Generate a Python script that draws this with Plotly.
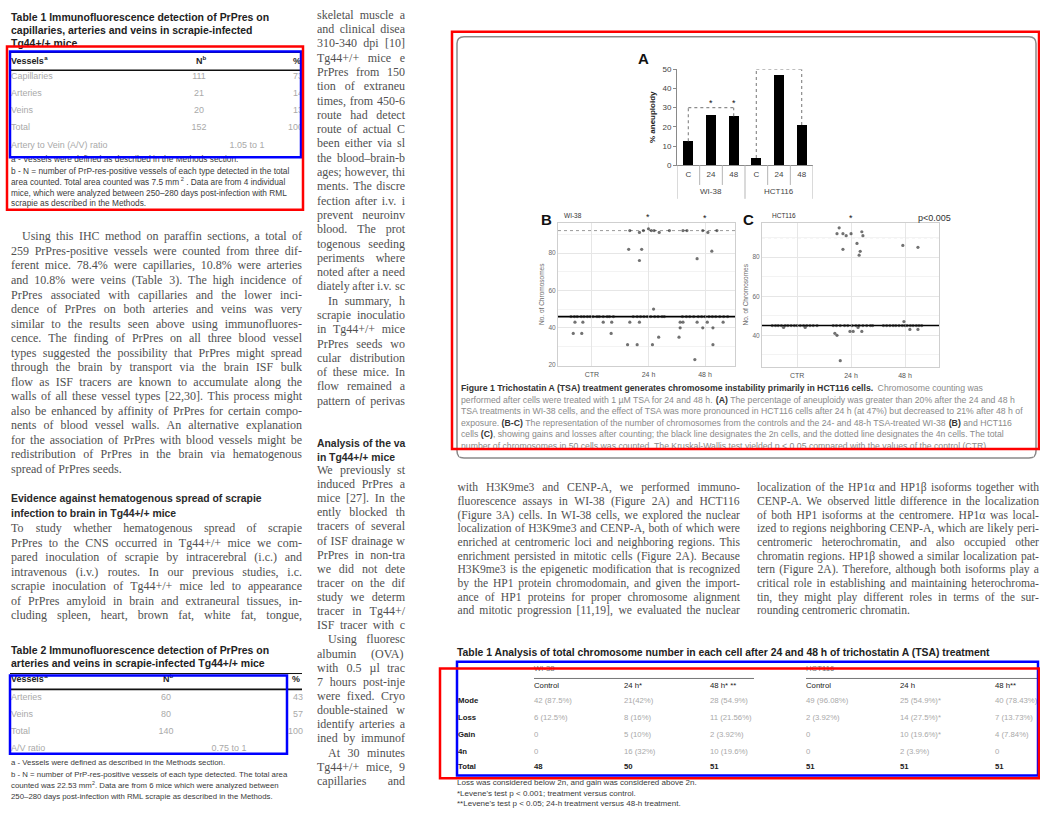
import re
import plotly.graph_objects as go

W, H = 1040, 815

# ---------------- Figure 1A: percentage of aneuploid cells ----------------
time_labels = ["C", "24", "48"]
cell_lines = ["WI-38", "HCT116"]
aneuploidy_wi38 = [12.5, 26.0, 25.5]
aneuploidy_hct116 = [3.8, 47.0, 21.0]
bracket_wi38 = 30
bracket_hct116 = 50

# ---------------- Figure 1B/1C: chromosome number per cell ----------------
conditions = ["CTR", "24 h", "48 h"]
wi38_ploidy = [46, 92]
hct116_ploidy = [45, 90]

wi38_ctr_n = [46, 46, 46, 46, 46, 46, 46, 46, 46, 46, 46, 46, 46, 46, 43, 43, 43, 43, 37, 37, 37]
wi38_ctr_dx = [-0.37, -0.31, -0.26, -0.19, -0.14, -0.08, -0.03, 0.02, 0.09, 0.13, 0.20, 0.27, 0.31, 0.38,
               -0.30, -0.16, 0.20, 0.35, -0.33, -0.18, 0.34]
wi38_24_n = [92, 91, 92, 93, 92, 92, 91, 92, 82, 82, 76, 50,
             46, 46, 46, 46, 46, 46, 46, 46, 46, 46, 43, 43, 35, 31, 31, 31]
wi38_24_dx = [-0.33, -0.16, -0.09, 0.00, 0.05, 0.10, 0.19, 0.37, -0.35, -0.12, -0.16, 0.09,
              -0.27, -0.20, -0.14, -0.08, -0.02, 0.04, 0.11, 0.17, 0.24, 0.28, -0.33, -0.16, 0.18, -0.37, -0.20, 0.07]
wi38_48_n = [92, 92, 92, 91, 92, 81, 77,
             46, 46, 46, 46, 46, 46, 46, 46, 46, 46, 46, 46, 46,
             43, 43, 43, 43, 43, 40, 40, 40, 35, 31, 23]
wi38_48_dx = [-0.39, -0.32, -0.04, 0.05, 0.21, 0.12, -0.14,
              -0.40, -0.33, -0.27, -0.20, -0.12, -0.06, 0.00, 0.07, 0.13, 0.19, 0.26, 0.33, 0.40,
              -0.44, -0.39, -0.14, 0.04, 0.32, -0.44, -0.04, 0.14, -0.46, 0.14, -0.18]

hct_ctr_n = [45, 45, 45, 45, 45, 45, 45, 45, 45, 45, 45, 45, 45, 45, 45, 44, 44]
hct_ctr_dx = [-0.46, -0.40, -0.35, -0.29, -0.22, -0.17, -0.11, -0.05, 0.00, 0.06, 0.12, 0.18, 0.24, 0.30, 0.37,
              -0.25, 0.15]
hct_24_n = [95, 92, 92, 91, 92, 93, 91, 84, 87, 83, 81,
            45, 45, 45, 45, 45, 45, 45, 45, 45, 45, 45, 45, 41, 40, 42, 42, 42, 44, 27]
hct_24_dx = [-0.22, -0.26, -0.15, -0.09, 0.00, 0.20, 0.22, -0.15, 0.11, 0.17, 0.15,
             -0.33, -0.27, -0.20, -0.12, -0.06, 0.02, 0.09, 0.15, 0.22, 0.29, 0.36, 0.40,
             -0.30, -0.26, -0.02, 0.04, 0.20, 0.13, -0.20]
hct_48_n = [86, 85, 45, 45, 45, 45, 45, 45, 45, 45, 45, 45, 45, 45, 45, 45, 47, 43, 43]
hct_48_dx = [-0.04, 0.24, -0.40, -0.34, -0.28, -0.22, -0.17, -0.11, -0.05, 0.00, 0.04, 0.10, 0.15, 0.21,
             0.26, 0.31, -0.02, 0.09, 0.24]

# ---------------- Tables ----------------
t1_vessels = ["Capillaries", "Arteries", "Veins", "Total"]
t1_n = [111, 21, 20, 152]
t1_pct = [73, 14, 13, 100]
t1_ratio = "1.05 to 1"

t2_vessels = ["Arteries", "Veins", "Total"]
t2_n = [60, 80, 140]
t2_pct = [43, 57, 100]
t2_ratio = "0.75 to 1"

tsa_groups = ["WI-38", "HCT116"]
tsa_cols = ["Control", "24 h*", "48 h* **", "Control", "24 h", "48 h**"]
tsa_rows = ["Mode", "Loss", "Gain", "4n", "Total"]
tsa_mode = ["42 (87.5%)", "21(42%)", "28 (54.9%)", "49 (96.08%)", "25 (54.9%)*", "40 (78.43%)"]
tsa_loss = ["6 (12.5%)", "8 (16%)", "11 (21.56%)", "2 (3.92%)", "14 (27.5%)*", "7 (13.73%)"]
tsa_gain = ["0", "5 (10%)", "2 (3.92%)", "0", "10 (19.6%)*", "4 (7.84%)"]
tsa_4n = ["0", "16 (32%)", "10 (19.6%)", "0", "2 (3.9%)", "0"]
tsa_total = ["48", "50", "51", "51", "51", "51"]

# ---------------- Text of the pages ----------------
t1_title = ["Table 1 Immunofluorescence detection of PrPres on",
            "capillaries, arteries and veins in scrapie-infected",
            "Tg44+/+ mice"]
t1_notes = ["a - Vessels were defined as described in the Methods section.",
            "b - N = number of PrP-res-positive vessels of each type detected in the total",
            "area counted. Total area counted was 7.5 mm<sup>2</sup> . Data are from 4 individual",
            "mice, which were analyzed between 250\u2013280 days post-infection with RML",
            "scrapie as described in the Methods."]
para1 = ["Using this IHC method on paraffin sections, a total of",
         "259 PrPres-positive vessels were counted from three dif-",
         "ferent mice. 78.4% were capillaries, 10.8% were arteries",
         "and 10.8% were veins (Table 3). The high incidence of",
         "PrPres associated with capillaries and the lower inci-",
         "dence of PrPres on both arteries and veins was very",
         "similar to the results seen above using immunofluores-",
         "cence. The finding of PrPres on all three blood vessel",
         "types suggested the possibility that PrPres might spread",
         "through the brain by transport via the brain ISF bulk",
         "flow as ISF tracers are known to accumulate along the",
         "walls of all these vessel types [22,30]. This process might",
         "also be enhanced by affinity of PrPres for certain compo-",
         "nents of blood vessel walls. An alternative explanation",
         "for the association of PrPres with blood vessels might be",
         "redistribution of PrPres in the brain via hematogenous",
         "spread of PrPres seeds."]
heading1 = ["Evidence against hematogenous spread of scrapie",
            "infection to brain in Tg44+/+ mice"]
para2 = ["To study whether hematogenous spread of scrapie",
         "PrPres to the CNS occurred in Tg44+/+ mice we com-",
         "pared inoculation of scrapie by intracerebral (i.c.) and",
         "intravenous (i.v.) routes. In our previous studies, i.c.",
         "scrapie inoculation of Tg44+/+ mice led to appearance",
         "of PrPres amyloid in brain and extraneural tissues, in-",
         "cluding spleen, heart, brown fat, white fat, tongue,"]
t2_title = ["Table 2 Immunofluorescence detection of PrPres on",
            "arteries and veins in scrapie-infected Tg44+/+ mice"]
t2_notes = ["a - Vessels were defined as described in the Methods section.",
            "b - N = number of PrP-res-positive vessels of each type detected. The total area",
            "counted was 22.53 mm<sup>2</sup>. Data are from 6 mice which were analyzed between",
            "250\u2013280 days post-infection with RML scrapie as described in the Methods."]
mid_upper = ["skeletal muscle a", "and clinical disea", "310-340 dpi [10]", "Tg44+/+ mice e",
             "PrPres from 150", "tion of extraneu", "times, from 450-6", "route had detect",
             "route of actual C", "been either via sl", "the blood\u2013brain-b", "ages; however, thi",
             "ments. The discre", "fection after i.v. i", "prevent neuroinv", "blood. The prot",
             "togenous seeding", "periments where", "noted after a need", "diately after i.v. sc",
             "In summary, h", "scrapie inoculatio", "in Tg44+/+ mice", "PrPres seeds wo",
             "cular distribution", "of these mice. In", "flow remained a", "pattern of perivas"]
mid_heading = ["Analysis of the va", "in Tg44+/+ mice"]
mid_lower = ["We previously st", "induced PrPres a", "mice [27]. In the", "ently blocked th",
             "tracers of several", "of ISF drainage w", "PrPres in non-tra", "we did not dete",
             "tracer on the dif", "study we determ", "tracer in Tg44+/", "ISF tracer with c",
             "Using fluoresc", "albumin (OVA)", "with 0.5 \u00b5l trac", "7 hours post-inje",
             "were fixed. Cryo", "double-stained w", "identify arteries a", "ined by immunof",
             "At 30 minutes", "Tg44+/+ mice, 9", "capillaries and"]
caption = ["<b>Figure 1 Trichostatin A (TSA) treatment generates chromosome instability primarily in HCT116 cells.</b> Chromosome counting was",
           "performed after cells were treated with 1 \u00b5M TSA for 24 and 48 h. <b>(A)</b> The percentage of aneuploidy was greater than 20% after the 24 and 48 h",
           "TSA treatments in WI-38 cells, and the effect of TSA was more pronounced in HCT116 cells after 24 h (at 47%) but decreased to 21% after 48 h of",
           "exposure. <b>(B-C)</b> The representation of the number of chromosomes from the controls and the 24- and 48-h TSA-treated WI-38 <b>(B)</b> and HCT116",
           "cells <b>(C)</b>, showing gains and losses after counting; the black line designates the 2n cells, and the dotted line designates the 4n cells. The total",
           "number of chromosomes in 50 cells was counted. The Kruskal-Wallis test yielded p < 0.05 compared with the values of the control (CTR)."]
right_left = ["with H3K9me3 and CENP-A, we performed immuno-",
              "fluorescence assays in WI-38 (Figure 2A) and HCT116",
              "(Figure 3A) cells. In WI-38 cells, we explored the nuclear",
              "localization of H3K9me3 and CENP-A, both of which were",
              "enriched at centromeric loci and neighboring regions. This",
              "enrichment persisted in mitotic cells (Figure 2A). Because",
              "H3K9me3 is the epigenetic modification that is recognized",
              "by the HP1 protein chromodomain, and given the import-",
              "ance of HP1 proteins for proper chromosome alignment",
              "and mitotic progression [11,19], we evaluated the nuclear"]
right_right = ["localization of the HP1\u03b1 and HP1\u03b2 isoforms together with",
               "CENP-A. We observed little difference in the localization",
               "of both HP1 isoforms at the centromere. HP1\u03b1 was local-",
               "ized to regions neighboring CENP-A, which are likely peri-",
               "centromeric heterochromatin, and also occupied other",
               "chromatin regions. HP1\u03b2 showed a similar localization pat-",
               "tern (Figure 2A). Therefore, although both isoforms play a",
               "critical role in establishing and maintaining heterochroma-",
               "tin, they might play different roles in terms of the sur-",
               "rounding centromeric chromatin."]
tsa_title = "Table 1 Analysis of total chromosome number in each cell after 24 and 48 h of trichostatin A (TSA) treatment"
tsa_notes = ["Loss was considered below 2n, and gain was considered above 2n.",
             "*Levene's test p < 0.001; treatment versus control.",
             "**Levene's test p < 0.05; 24-h treatment versus 48-h treatment."]

# ---------------- Font metrics (Times / Arial compatible, 1/1000 em) ----------------
LOW = "abcdefghijklmnopqrstuvwxyz"
UP = "ABCDEFGHIJKLMNOPQRSTUVWXYZ"
SERIF_M = dict(zip(LOW, [444, 500, 444, 500, 444, 333, 500, 500, 278, 278, 500, 278, 778, 500, 500, 500, 500,
                         333, 389, 278, 500, 500, 722, 500, 500, 444]))
SERIF_M.update(zip(UP, [722, 667, 667, 722, 611, 556, 722, 722, 333, 389, 722, 611, 889, 722, 722, 556, 722,
                        667, 556, 611, 722, 722, 944, 722, 722, 611]))
SERIF_M.update({d: 500 for d in "0123456789"})
SERIF_M.update({" ": 250, ".": 250, ",": 250, "-": 333, "(": 333, ")": 333, "[": 333, "]": 333, "%": 833,
                "/": 278, ":": 278, ";": 278, "+": 564, "=": 564, "'": 333, "\u2013": 500, "\u00b5": 500,
                "\u03b1": 520, "\u03b2": 500})
SANS_M = dict(zip(LOW, [556, 556, 500, 556, 556, 278, 556, 556, 222, 222, 500, 222, 833, 556, 556, 556, 556,
                        333, 500, 278, 556, 500, 722, 500, 500, 500]))
SANS_M.update(zip(UP, [667, 667, 722, 722, 667, 611, 778, 722, 278, 500, 667, 556, 833, 722, 778, 667, 778,
                       722, 667, 611, 722, 667, 944, 667, 667, 611]))
SANS_M.update({d: 556 for d in "0123456789"})
SANS_M.update({" ": 278, ".": 278, ",": 278, "-": 333, "(": 333, ")": 333, "[": 278, "]": 278, "%": 889,
               "/": 278, ":": 278, ";": 278, "*": 389, "+": 584, "=": 584, "<": 584, ">": 584, "'": 191,
               "\u2013": 556, "\u00b5": 556})
SANSB_M = dict(zip(LOW, [556, 611, 556, 611, 556, 333, 611, 611, 278, 278, 556, 278, 889, 611, 611, 611, 611,
                         389, 556, 333, 611, 556, 778, 556, 556, 500]))
SANSB_M.update(zip(UP, [722, 722, 722, 722, 667, 611, 778, 722, 278, 556, 722, 611, 833, 722, 778, 667, 778,
                        722, 667, 611, 722, 667, 944, 667, 667, 611]))
SANSB_M.update({d: 556 for d in "0123456789"})
SANSB_M.update({" ": 278, ".": 278, ",": 278, "-": 333, "(": 333, ")": 333, "%": 889, "/": 278, ":": 333,
                ";": 333, "*": 389, "+": 584})

SERIF = "Liberation Serif, Times New Roman, serif"
SANS = "Liberation Sans, Arial, sans-serif"


def strip_tags(s):
    return re.sub(r"<[^>]+>", "", s)


def em(s, table):
    return sum(table.get(c, 500) for c in strip_tags(s)) / 1000.0


def em_mixed(s, reg, bold):
    total, is_bold = 0.0, False
    for part in re.split(r"(</?b>)", s):
        if part == "<b>":
            is_bold = True
        elif part == "</b>":
            is_bold = False
        else:
            total += em(part, bold if is_bold else reg)
    return total


def fit(s, table, width):
    return width / em(s, table)


fig = go.Figure()


def put(xs, ys, texts, family, size, color, pos="middle right", weight="normal"):
    fig.add_trace(go.Scatter(x=xs, y=ys, text=texts, mode="text", textposition=pos,
                             textfont=dict(family=family, size=size, color=color, weight=weight),
                             hoverinfo="skip", showlegend=False, cliponaxis=False,
                             xaxis="x", yaxis="y"))


def rich(lines, x0, ys, size, color, bold_color, bold_all=False, reg=SANS_M, bold=SANSB_M):
    """Sans lines with <b> and <sup> runs, each run set as its own text item."""
    runs = {}
    for line, y in zip(lines, ys):
        x, is_b, is_sup = x0, bold_all, False
        for tok in re.split(r"(</?b>|</?sup>)", line):
            if tok == "<b>":
                is_b = True
            elif tok == "</b>":
                is_b = bold_all
            elif tok == "<sup>":
                is_sup = True
            elif tok == "</sup>":
                is_sup = False
            elif tok:
                sz = size * 0.68 if is_sup else size
                tab = bold if is_b else reg
                lead = len(tok) - len(tok.lstrip(" "))
                trail = len(tok) - len(tok.rstrip(" "))
                x += lead * tab[" "] * sz / 1000.0
                core = tok.strip()
                if core:
                    runs.setdefault((is_b, is_sup), []).append((x, y - (0.38 * size if is_sup else 0), core))
                    x += em(core, tab) * sz
                x += trail * tab[" "] * sz / 1000.0
    for (is_b, is_sup), items in runs.items():
        put([i[0] for i in items], [i[1] for i in items], [i[2] for i in items], SANS,
            size * 0.68 if is_sup else size, bold_color if is_b else color,
            weight="bold" if is_b else "normal")


def justify(lines, x0, x1, y0, dy, size, table, ragged=(), indents=None):
    xs, ys, ws = [], [], []
    space = table[" "] * size / 1000.0
    for i, line in enumerate(lines):
        left = x0 + (indents or {}).get(i, 0)
        words = line.split()
        wl = [em(w, table) * size for w in words]
        if len(words) > 1 and i not in ragged:
            gap = max((x1 - left - sum(wl)) / (len(words) - 1), space * 0.6)
        else:
            gap = space
        x = left
        for w, wd in zip(words, wl):
            xs.append(x)
            ys.append(y0 + i * dy)
            ws.append(w)
            x += wd + gap
    return xs, ys, ws


BODY = "#505050"
LIGHT = "#a9a9a9"
DARK = "#222222"

# ======================= Left page =======================
s_title = fit(t1_title[0], SANSB_M, 259)
put([11] * 3, [15, 28, 41], t1_title, SANS, s_title, DARK, weight="bold")

s_row = fit("Artery to Vein (A/V) ratio", SANS_M, 97)
rich(["Vessels<sup>a</sup>"], 11, [58], s_row, DARK, DARK, bold_all=True)
rich(["N<sup>b</sup>"], 196, [58], s_row, DARK, DARK, bold_all=True)
put([301], [58], ["%"], SANS, s_row, DARK, pos="middle left", weight="bold")
t1_y = [74, 91, 108, 125]
put([11] * 4 + [11], t1_y + [143], t1_vessels + ["Artery to Vein (A/V) ratio"], SANS, s_row, LIGHT)
put([199] * 4 + [247], t1_y + [143], [str(v) for v in t1_n] + [t1_ratio], SANS, s_row, LIGHT, pos="middle center")
put([303] * 4, t1_y, [str(v) for v in t1_pct], SANS, s_row, LIGHT, pos="middle left")

s_note1 = fit(t1_notes[1], SANS_M, 279)
rich(t1_notes, 11, [158, 170, 181, 192, 202], s_note1, "#3a3a3a", "#3a3a3a")

xs, ys, ws = justify(para1, 11, 302, 236, 14.7, 12, SERIF_M, ragged={16}, indents={0: 11})
put(xs, ys, ws, SERIF, 12, BODY)

s_head = fit(heading1[0], SANSB_M, 251)
put([11, 11], [501, 516], heading1, SANS, s_head, "#2a2a2a", weight="bold")

xs, ys, ws = justify(para2, 11, 302, 531, 14.7, 12, SERIF_M)
put(xs, ys, ws, SERIF, 12, BODY)

s_title2 = fit(t2_title[0], SANSB_M, 259)
put([11, 11], [655, 668], t2_title, SANS, s_title2, DARK, weight="bold")
rich(["Vessels<sup>a</sup>"], 11, [683], s_row, DARK, DARK, bold_all=True)
rich(["N<sup>b</sup>"], 163, [683], s_row, DARK, DARK, bold_all=True)
put([300], [683], ["%"], SANS, s_row, DARK, pos="middle left", weight="bold")
t2_y = [702, 719, 736]
put([11] * 4, t2_y + [753], t2_vessels + ["A/V ratio"], SANS, s_row, LIGHT)
put([166] * 3 + [229], t2_y + [753], [str(v) for v in t2_n] + [t2_ratio], SANS, s_row, LIGHT, pos="middle center")
put([303] * 3, t2_y, [str(v) for v in t2_pct], SANS, s_row, LIGHT, pos="middle left")
s_note2 = fit(t2_notes[1], SANS_M, 277)
rich(t2_notes, 11, [768, 780, 791, 802], s_note2, "#3a3a3a", "#3a3a3a")

# middle column, cut at the page edge
xs, ys, ws = justify(mid_upper, 317, 405, 12, 14.45, 12, SERIF_M, indents={20: 11})
put(xs, ys, ws, SERIF, 12, BODY)
put([317, 317], [445, 459], mid_heading, SANS, s_head, "#2a2a2a", weight="bold")
xs, ys, ws = justify(mid_lower, 317, 405, 472, 14.3, 12, SERIF_M, indents={12: 11, 20: 11})
put(xs, ys, ws, SERIF, 12, BODY)

# ======================= Right page =======================
s_cap = 554 / em_mixed(caption[1], SANS_M, SANSB_M)
rich(caption, 461, [389, 401, 412.7, 424.4, 436, 447.7], s_cap, "#8a8a8a", "#333333")

xs, ys, ws = justify(right_left, 457.5, 740, 490, 13.8, 11.6, SERIF_M)
put(xs, ys, ws, SERIF, 11.6, BODY)
xs, ys, ws = justify(right_right, 757, 1039, 490, 13.8, 11.6, SERIF_M, ragged={9})
put(xs, ys, ws, SERIF, 11.6, BODY)

s_tsa_title = fit(tsa_title, SANSB_M, 535)
put([457], [657], [tsa_title], SANS, s_tsa_title, DARK, weight="bold")
col_x = [534, 624, 710, 806, 900, 995]
row_y = [705, 722, 739, 756, 772]
s_cell = fit("42 (87.5%)", SANS_M, 38)
put([534, 806], [672, 672], tsa_groups, SANS, s_cell, "#777777")
put(col_x, [690] * 6, tsa_cols, SANS, s_cell, DARK)
put([458] * 5, row_y, tsa_rows, SANS, s_cell, DARK, weight="bold")
cells = tsa_mode + tsa_loss + tsa_gain + tsa_4n
put(col_x * 4, [y for y in row_y[:4] for _ in col_x], cells, SANS, s_cell, LIGHT)
put(col_x, [row_y[4]] * 6, tsa_total, SANS, s_cell, DARK, weight="bold")
s_tsa_note = fit(tsa_notes[0], SANS_M, 240)
put([457] * 3, [788, 799, 809], tsa_notes, SANS, s_tsa_note, "#3a3a3a")

# ======================= Figure 1A bars =======================
bar_vals = aneuploidy_wi38 + aneuploidy_hct116
bar_pos = list(range(len(bar_vals)))
fig.add_trace(go.Bar(x=bar_pos, y=bar_vals, width=0.45, marker=dict(color="#000000", line=dict(width=0)),
                     xaxis="x2", yaxis="y2", hoverinfo="skip", showlegend=False))


# ======================= Figure 1B / 1C scatter =======================
def jitter_trace(groups, xa, ya):
    xs, ys = [], []
    for k, (n, dxs) in enumerate(groups):
        xs += [k + 1 + d for d in dxs]
        ys += n
    fig.add_trace(go.Scatter(x=xs, y=ys, mode="markers", xaxis=xa, yaxis=ya, hoverinfo="skip",
                             showlegend=False,
                             marker=dict(size=3.2, color="rgba(20,20,20,0.6)", line=dict(width=0))))


jitter_trace([(wi38_ctr_n, wi38_ctr_dx), (wi38_24_n, wi38_24_dx), (wi38_48_n, wi38_48_dx)], "x3", "y3")
jitter_trace([(hct_ctr_n, hct_ctr_dx), (hct_24_n, hct_24_dx), (hct_48_n, hct_48_dx)], "x4", "y4")


def dom_x(a, b):
    return [a / W, b / W]


def dom_y(top, bottom):
    return [1 - bottom / H, 1 - top / H]


tick_small = dict(family=SANS, size=6.5, color="#6a6a6a")
scatter_x = dict(tickvals=[1, 2, 3], ticktext=conditions, showgrid=True, gridcolor="#e6e6e6",
                 showline=True, mirror=True, linecolor="#cfcfcf", linewidth=1, ticks="",
                 tickfont=dict(family=SANS, size=7, color="#555"), zeroline=False, fixedrange=True,
                 ticklabelstandoff=2)
scatter_y = dict(tickvals=[20, 40, 60, 80], showgrid=True, gridcolor="#e6e6e6",
                 minor=dict(tickvals=[30, 50, 70, 90], showgrid=True, gridcolor="#f3f3f3"),
                 showline=True, mirror=True, linecolor="#cfcfcf", linewidth=1, ticks="",
                 tickfont=tick_small, zeroline=False, fixedrange=True,
                 title=dict(text="No. of Chromosomes", font=tick_small, standoff=3))

fig.update_layout(
    width=W, height=H, margin=dict(l=0, r=0, t=0, b=0),
    paper_bgcolor="white", plot_bgcolor="rgba(0,0,0,0)", showlegend=False, bargap=0,
    xaxis=dict(domain=[0, 1], range=[0, W], visible=False, fixedrange=True),
    yaxis=dict(domain=[0, 1], range=[H, 0], visible=False, fixedrange=True),
    xaxis2=dict(domain=dom_x(677, 813), range=[-0.5, 5.5], anchor="y2", tickvals=bar_pos,
                ticktext=time_labels * 2, ticks="", showgrid=False, zeroline=False, showline=True,
                linecolor="#8a8a8a", linewidth=1, tickfont=dict(family=SANS, size=8, color="#444"),
                ticklabelstandoff=1, fixedrange=True),
    yaxis2=dict(domain=dom_y(66, 163), range=[0, 50], anchor="x2", tickvals=[0, 10, 20, 30, 40, 50],
                ticks="outside", ticklen=3, tickcolor="#8a8a8a", showline=True, linecolor="#8a8a8a",
                linewidth=1, showgrid=False, zeroline=False, fixedrange=True,
                tickfont=dict(family=SANS, size=8, color="#444"),
                title=dict(text="<b>% aneuploidy</b>", font=dict(family=SANS, size=8, color="#222"),
                           standoff=5)),
    xaxis3=dict(domain=dom_x(558, 735), range=[0.4, 3.53], anchor="y3", **scatter_x),
    yaxis3=dict(domain=dom_y(221, 366), range=[19.6, 96.3], anchor="x3", **scatter_y),
    xaxis4=dict(domain=dom_x(762, 939), range=[0.35, 3.63], anchor="y4", **scatter_x),
    yaxis4=dict(domain=dom_y(221, 367), range=[23.8, 97.7], anchor="x4", **scatter_y),
)

shapes = []


def hline(x0, x1, y, color, width, xref="x", yref="y", dash="solid", layer="above"):
    shapes.append(dict(type="line", x0=x0, x1=x1, y0=y, y1=y, xref=xref, yref=yref,
                       line=dict(color=color, width=width, dash=dash), layer=layer))


def vline(x, y0, y1, color, width, xref="x", yref="y", dash="solid", layer="above"):
    shapes.append(dict(type="line", x0=x, x1=x, y0=y0, y1=y1, xref=xref, yref=yref,
                       line=dict(color=color, width=width, dash=dash), layer=layer))


def box(x0, y0, x1, y1, color, width):
    shapes.append(dict(type="rect", x0=x0, x1=x1, y0=y0, y1=y1, xref="x", yref="y",
                       line=dict(color=color, width=width), fillcolor="rgba(0,0,0,0)", layer="above"))


# table rules
hline(10, 301, 49, "#111", 1)
hline(10, 301, 67, "#111", 1.6)
hline(10, 302, 677, "#111", 1)
hline(10, 302, 693, "#111", 1.6)
hline(534, 754, 682, "#777", 1)
hline(806, 1038, 682, "#777", 1)

# Figure 1A category cells and significance brackets
for b in [-0.5, 0.5, 1.5, 2.5, 3.5, 4.5, 5.5]:
    bottom = 197 if b in (-0.5, 2.5, 5.5) else 183
    vline(b, 163, bottom, "#b5b5b5", 1, xref="x2", yref="y")
hline(0, 2, bracket_wi38, "#8c8c8c", 1.2, xref="x2", yref="y2", dash="dot")
vline(0, aneuploidy_wi38[0], bracket_wi38, "#8c8c8c", 1.2, xref="x2", yref="y2", dash="dot")
vline(2, aneuploidy_wi38[2], bracket_wi38, "#8c8c8c", 1.2, xref="x2", yref="y2", dash="dot")
hline(3, 5, bracket_hct116, "#8c8c8c", 1.2, xref="x2", yref="y2", dash="dot")
vline(3, aneuploidy_hct116[0], bracket_hct116, "#8c8c8c", 1.2, xref="x2", yref="y2", dash="dot")
vline(5, aneuploidy_hct116[2], bracket_hct116, "#8c8c8c", 1.2, xref="x2", yref="y2", dash="dot")

# 2n and 4n reference lines
hline(0, 1, wi38_ploidy[0], "#000", 1.6, xref="x3 domain", yref="y3", layer="below")
hline(0, 1, wi38_ploidy[1], "#9a9a9a", 1, xref="x3 domain", yref="y3", dash="dot", layer="below")
hline(0, 1, hct116_ploidy[0], "#000", 1.6, xref="x4 domain", yref="y4", layer="below")
hline(0, 1, hct116_ploidy[1], "#9a9a9a", 1, xref="x4 domain", yref="y4", dash="dot", layer="below")

# rounded figure frame
fx0, fy0, fx1, fy1, r = 457, 33, 1036, 459, 7
frame = (f"M {fx0 + r},{fy0} L {fx1 - r},{fy0} Q {fx1},{fy0} {fx1},{fy0 + r} L {fx1},{fy1 - r} "
         f"Q {fx1},{fy1} {fx1 - r},{fy1} L {fx0 + r},{fy1} Q {fx0},{fy1} {fx0},{fy1 - r} "
         f"L {fx0},{fy0 + r} Q {fx0},{fy0} {fx0 + r},{fy0} Z")
shapes.append(dict(type="path", path=frame, xref="x", yref="y", line=dict(color="#8a8a8a", width=1.5),
                   layer="above"))
# the caption is cut at the bottom of the frame
shapes.append(dict(type="rect", x0=459, x1=1034, y0=450, y1=457.5, xref="x", yref="y",
                   fillcolor="white", line=dict(width=0), layer="above"))

# highlight boxes
box(10, 48, 301, 155, "#0000ff", 2.5)
box(10, 679, 287, 758, "#0000ff", 2.5)
box(457, 665, 1038, 780, "#0000ff", 2.5)
box(7, 43, 303, 208, "#ff0000", 2.5)
box(452, 28, 1039, 450, "#ff0000", 2.5)
box(440, 672, 1039, 783, "#ff0000", 2.5)

fig.update_layout(shapes=shapes)

ann = []


def label(x, y, text, size, color="#111", xref="x", yref="y", xanchor="center", bold=False):
    ann.append(dict(x=x, y=y, xref=xref, yref=yref, text=text, showarrow=False, xanchor=xanchor,
                    yanchor="middle",
                    font=dict(family=SANS, size=size, color=color, weight="bold" if bold else "normal")))


label(643, 55, "A", 15, bold=True)
label(1, 190, cell_lines[0], 8, "#444", xref="x2")
label(4, 190, cell_lines[1], 8, "#444", xref="x2")
for k in (1, 2):
    label(k, bracket_wi38 + 2.2, "*", 9, "#111", xref="x2", yref="y2")
for k in (4, 5):
    label(k, bracket_hct116 + 2.2, "*", 9, "#111", xref="x2", yref="y2")
label(546, 218, "B", 15, bold=True)
label(562, 214, cell_lines[0], 6.5, "#333", xanchor="left")
label(2, 215, "*", 9, "#222", xref="x3")
label(3, 216, "*", 9, "#111", xref="x3")
label(748, 218, "C", 15, bold=True)
label(770, 214, cell_lines[1], 6.5, "#333", xanchor="left")
label(2, 216, "*", 9, "#111", xref="x4")
label(953, 216, "p&lt;0.005", 9, "#333", xanchor="right")
fig.update_layout(annotations=ann)

fig.write_html("out.html")
